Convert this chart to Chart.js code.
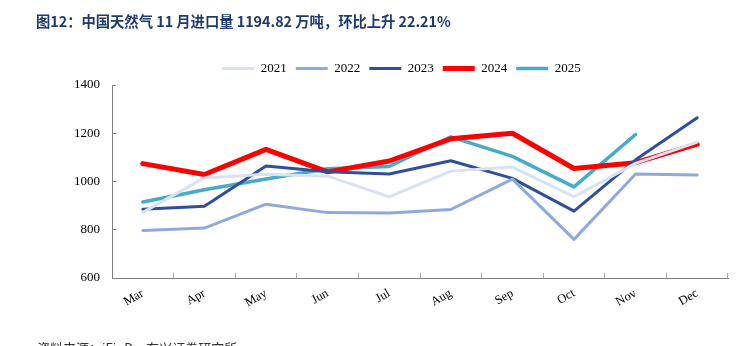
<!DOCTYPE html>
<html>
<head>
<meta charset="utf-8">
<title>中国天然气进口量</title>
<script src="https://cdn.jsdelivr.net/npm/chart.js"></script>
<style>
  html, body { margin: 0; padding: 0; background: #fff; overflow: hidden; }
  #wrap { position: relative; width: 752px; height: 346px; }
  #title { position: absolute; left: 36px; top: 10px; font: bold 14.3px "Noto Sans CJK SC", "Liberation Sans", sans-serif; color: #1f3a6e; white-space: nowrap; }
  #source { position: absolute; left: 37px; top: 338px; font: 13px "Noto Sans CJK SC", sans-serif; color: #333; white-space: nowrap; }
  canvas { position: absolute; left: 0; top: 0; }
</style>
</head>
<body>
<div id="wrap">
  <canvas id="chart" width="752" height="346"></canvas>
  <div id="title">图12：中国天然气 11 月进口量 1194.82 万吨，环比上升 22.21%</div>
  <div id="source">资料来源：iFinD，东兴证券研究所</div>
</div>
<script>
// 单位：万吨
const months = ['Mar', 'Apr', 'May', 'Jun', 'Jul', 'Aug', 'Sep', 'Oct', 'Nov', 'Dec'];
const y2021 = [872, 1015, 1030, 1022, 936, 1043, 1060, 937, 1075, 1163];
const y2022 = [797, 807, 906, 871, 869, 884, 1010, 760, 1031, 1027];
const y2023 = [885, 897, 1064, 1040, 1031, 1086, 1013, 877, 1090, 1264];
const y2024 = [1074, 1029, 1133, 1040, 1085, 1177, 1200, 1054, 1078, 1155];
const y2025 = [915, 966, 1010, 1053, 1062, 1185, 1104, 978, 1194.82];
const yTicks = [600, 800, 1000, 1200, 1400];

const serif = 'Liberation Serif, Times New Roman, serif';

function line(label, data, color, width) {
  return {
    label: label,
    data: data,
    borderColor: color,
    backgroundColor: color,
    borderWidth: width,
    pointRadius: 0,
    pointHoverRadius: 0,
    pointStyle: 'line',
    tension: 0,
    borderJoinStyle: 'round',
    borderCapStyle: 'round',
    fill: false
  };
}

new Chart(document.getElementById('chart'), {
  type: 'line',
  data: {
    labels: months,
    datasets: [
      line('2021', y2021, '#d9e2f4', 3),
      line('2022', y2022, '#8eaadc', 3),
      line('2023', y2023, '#2f4f9e', 3),
      line('2024', y2024, '#ff0000', 5),
      line('2025', y2025, '#45abc6', 3.5)
    ]
  },
  options: {
    responsive: false,
    animation: false,
    layout: { padding: { left: 75, right: 24, top: 53, bottom: 28 } },
    plugins: {
      tooltip: { enabled: false },
      legend: {
        position: 'top',
        labels: {
          usePointStyle: true,
          pointStyleWidth: 32,
          boxHeight: 4,
          padding: 9,
          color: '#000',
          font: { family: serif, size: 13 }
        }
      }
    },
    scales: {
      x: {
        offset: true,
        grid: { offset: true, drawOnChartArea: false, drawTicks: true, tickLength: -5, color: '#a6a6a6' },
        border: { color: '#808080', width: 1 },
        ticks: { color: '#000', minRotation: 30, maxRotation: 30, padding: 13, font: { family: serif, size: 12.5 } },
        afterFit: function (s) { s.height = 40; }
      },
      y: {
        min: 600,
        max: 1400,
        afterBuildTicks: function (s) { s.ticks = yTicks.map(v => ({ value: v })); },
        grid: { drawOnChartArea: false, drawTicks: true, tickLength: -4, color: '#808080' },
        border: { color: '#808080', width: 1 },
        ticks: { color: '#000', padding: 16, font: { family: serif, size: 13 }, callback: v => String(v) },
        afterFit: function (s) { s.width = 37; }
      }
    }
  }
});
</script>
</body>
</html>
